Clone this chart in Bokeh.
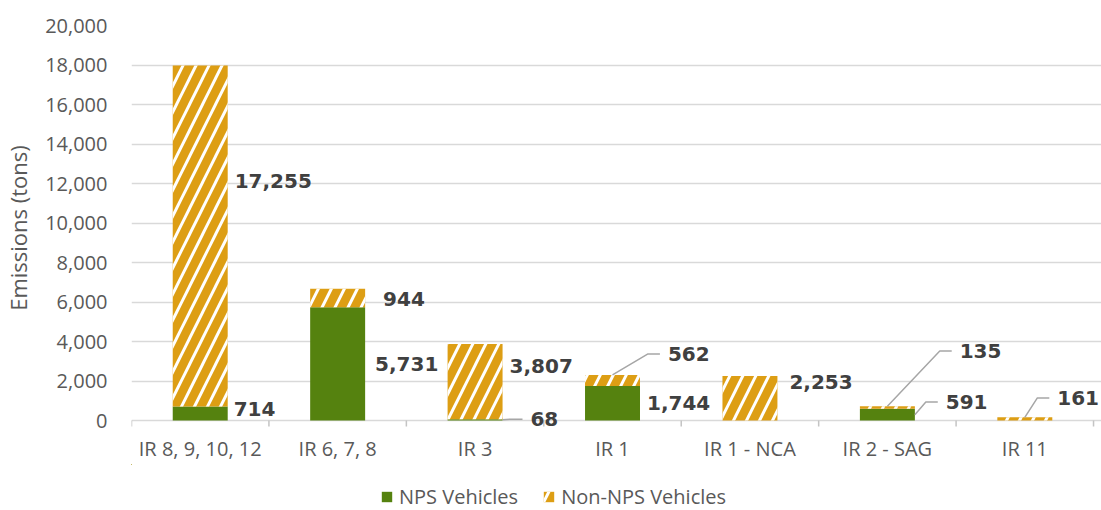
from bokeh.plotting import figure
from bokeh.layouts import column
from bokeh.models import (Range1d, FixedTicker, NumeralTickFormatter, Legend,
                          LegendItem, ColumnDataSource)
from bokeh.embed import file_html
from bokeh.resources import INLINE
from bokeh.core.properties import value

# ---------------- data ----------------
categories = ["IR 8, 9, 10, 12", "IR 6, 7, 8", "IR 3", "IR 1",
              "IR 1 - NCA", "IR 2 - SAG", "IR 11"]
nps_vehicles = [714, 5731, 68, 1744, 0, 591, 0]
non_nps_vehicles = [17255, 944, 3807, 562, 2253, 135, 161]
y_tick_values = list(range(0, 20001, 2000))
series_names = ["NPS Vehicles", "Non-NPS Vehicles"]

# ---------------- label placement (positions, not data) ----------------
# label vertical anchor in data units, horizontal offset in px from bar right edge
nps_label_y = [583, 2864, 68, 887, None, 938, None]
nps_label_dx = [6, 10, 28, 7, None, 31, None]
nps_leader = [None, None, "right", None, None, "right", None]
non_label_y = [12142, 6160, 2763, 3371, 1952, 3523, 1141]
non_label_dx = [7, 18, 7, 28, 12, 45, 5]
non_leader = [None, None, None, "top", None, "top", "top"]

GREEN = "#55820F"
ORANGE = "#DD9E14"
GRID = "#d9d9d9"
AXIS_TXT = "#595959"
LABEL_TXT = "#404040"
HATCH = dict(hatch_pattern="/", hatch_color="white", hatch_alpha=1.0,
             hatch_scale=26, hatch_weight=3)

FRAME_W, FRAME_H = 966, 395      # plot area of the 7 categories / 0..20000
EXTRA_R, EXTRA_B = 8, 10          # extra px right / below so labels are not clipped
BAR_W = 0.40
n = len(categories)
Y_MAX = 20000
px_x = FRAME_W / n          # px per x unit
px_y = FRAME_H / Y_MAX      # px per y unit

centers = [i + 0.5 for i in range(n)]
tops = [a + b for a, b in zip(nps_vehicles, non_nps_vehicles)]

p = figure(width=1101, height=464,
           x_range=Range1d(0, n + EXTRA_R / px_x),
           y_range=Range1d(-EXTRA_B / px_y, Y_MAX),
           output_backend="svg", toolbar_location=None,
           min_border_left=127, min_border_right=0, min_border_top=25,
           min_border_bottom=34)
p.outline_line_color = None
p.background_fill_color = "white"
p.border_fill_color = "white"

# grid (the 0 line doubles as the category axis line)
p.xgrid.visible = False
p.ygrid.ticker = FixedTicker(ticks=y_tick_values)
p.ygrid.grid_line_color = GRID
p.ygrid.grid_line_width = 1.5

# y axis
p.yaxis.ticker = FixedTicker(ticks=y_tick_values)
p.yaxis.formatter = NumeralTickFormatter(format="0,0")
p.yaxis.axis_line_color = None
p.yaxis.major_tick_line_color = None
p.yaxis.minor_tick_line_color = None
p.yaxis.major_tick_out = 0
p.yaxis.major_tick_in = 0
p.yaxis.major_label_standoff = 24
p.yaxis.major_label_text_font = "Open Sans"
p.yaxis.major_label_text_font_size = "20px"
p.yaxis.major_label_text_color = AXIS_TXT
p.yaxis.axis_label = "Emissions (tons)"
p.yaxis.axis_label_text_font = "Open Sans"
p.yaxis.axis_label_text_font_size = "22px"
p.yaxis.axis_label_text_font_style = "normal"
p.yaxis.axis_label_text_color = AXIS_TXT
p.yaxis.axis_label_standoff = 9

# x axis: labels at category centres only
p.xaxis.ticker = FixedTicker(ticks=centers)
p.xaxis.major_label_overrides = {c: cat for c, cat in zip(centers, categories)}
p.xaxis.major_tick_out = 0
p.xaxis.major_tick_in = 0
p.xaxis.major_tick_line_color = None
p.xaxis.minor_tick_line_color = None
p.xaxis.axis_line_color = None
p.xaxis.major_label_standoff = 4
p.xaxis.major_label_text_font = "Open Sans"
p.xaxis.major_label_text_font_size = "20px"
p.xaxis.major_label_text_color = AXIS_TXT

# small ticks at category boundaries, hanging below the 0 line
bounds = list(range(n + 1))
p.segment(x0=bounds, y0=[0] * len(bounds), x1=bounds,
          y1=[-6 / px_y] * len(bounds), line_color="#c4c4c4", line_width=1.5)

# bars
src = ColumnDataSource(dict(x=centers, nps=nps_vehicles, top=tops))
p.vbar(x="x", width=BAR_W, bottom=0, top="nps", source=src,
       fill_color=GREEN, line_color=None)
p.vbar(x="x", width=BAR_W, bottom="nps", top="top", source=src,
       fill_color=ORANGE, line_color=None, **HATCH)

# data labels + leader lines
lx, ly, lt = [], [], []
leader_xs, leader_ys = [], []


def add_labels(values, ys, dxs, leaders, bottoms):
    for i, v in enumerate(values):
        if ys[i] is None or v == 0:
            continue
        right = centers[i] + BAR_W / 2
        x = right + dxs[i] / px_x
        lx.append(x)
        ly.append(ys[i])
        lt.append(f"{v:,}")
        kind = leaders[i]
        if kind is not None:
            if kind == "top":
                sx, sy = centers[i], bottoms[i] + v
            else:
                sx, sy = right, bottoms[i] + v / 2
            ex = x - 8 / px_x
            elbow = x - 20 / px_x
            leader_xs.append([sx, max(elbow, sx), ex])
            leader_ys.append([sy, ys[i], ys[i]])


add_labels(nps_vehicles, nps_label_y, nps_label_dx, nps_leader, [0] * n)
add_labels(non_nps_vehicles, non_label_y, non_label_dx, non_leader, nps_vehicles)

p.multi_line(xs=leader_xs, ys=leader_ys, line_color="#a6a6a6", line_width=1.5)
p.text(x=lx, y=ly, text=lt, text_font=value("DejaVu Sans"), text_font_style="bold",
       text_font_size="20px", text_color=LABEL_TXT, text_baseline="middle",
       text_align="left")

# ---------------- legend strip below the chart ----------------
# legend proxies use the same data, but this strip's ranges keep them out of view
lf = figure(width=1101, height=46, x_range=Range1d(100, 101), y_range=Range1d(-2, -1),
            output_backend="svg", toolbar_location=None,
            x_axis_location=None, y_axis_location=None, min_border=0)
lf.outline_line_color = None
lf.grid.visible = False
lf.background_fill_color = "white"
lf.border_fill_color = "white"
lg = lf.vbar(x="x", width=BAR_W, bottom=0, top="nps", source=src,
             fill_color=GREEN, line_color=None)
lo = lf.vbar(x="x", width=BAR_W, bottom="nps", top="top", source=src,
             fill_color=ORANGE, line_color=None, **HATCH)
legend = Legend(items=[LegendItem(label=series_names[0], renderers=[lg]),
                       LegendItem(label=series_names[1], renderers=[lo])],
                orientation="horizontal", location=(249, 0),
                border_line_color=None, background_fill_alpha=0,
                glyph_width=13, glyph_height=13, label_standoff=6, spacing=24,
                padding=0, margin=0,
                label_text_font="Open Sans", label_text_font_size="20px",
                label_text_color=AXIS_TXT)
lf.add_layout(legend)

open("out.html", "w").write(file_html(column(p, lf, spacing=0), INLINE))
